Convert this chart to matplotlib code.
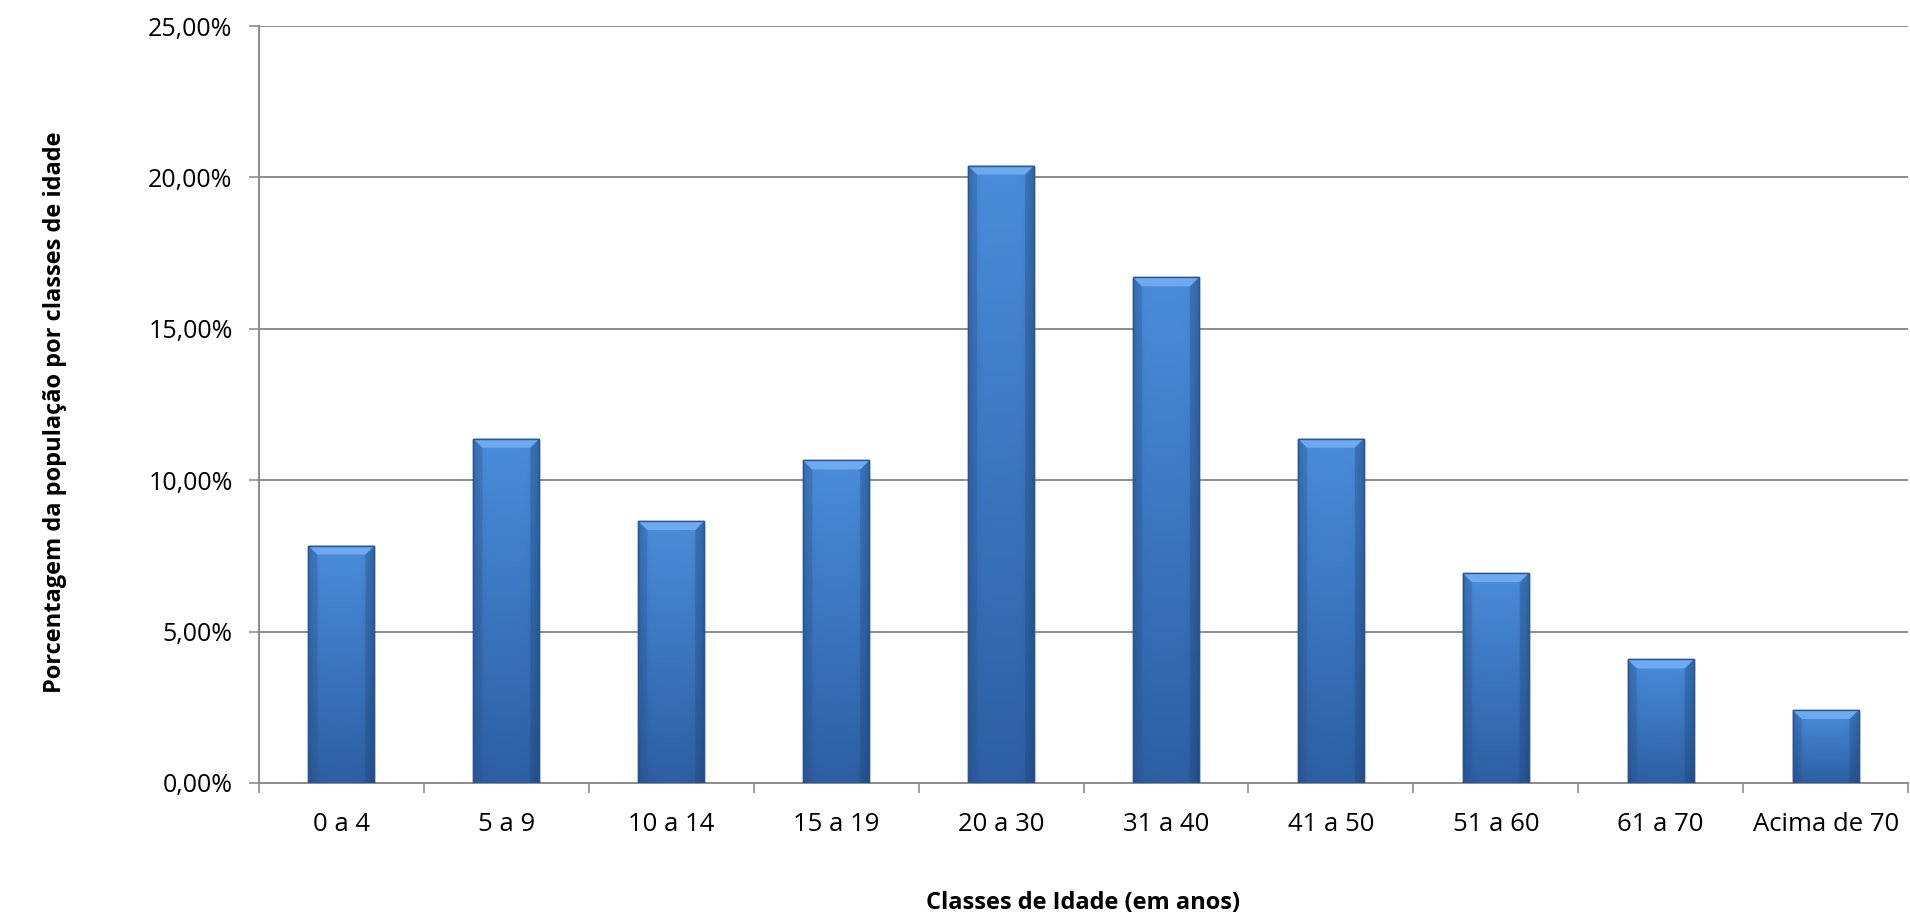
import numpy as np
import matplotlib
matplotlib.use('Agg')
import matplotlib.pyplot as plt
from matplotlib.ticker import FuncFormatter, FixedLocator
from matplotlib.colors import to_rgb
from matplotlib.patches import Polygon

plt.rcParams['font.family'] = ['Open Sans', 'DejaVu Sans']

categories = ['0 a 4', '5 a 9', '10 a 14', '15 a 19', '20 a 30',
              '31 a 40', '41 a 50', '51 a 60', '61 a 70', 'Acima de 70']
percentages = [7.84, 11.37, 8.65, 10.65, 20.39, 16.70, 11.37, 6.93, 4.08, 2.41]
y_ticks = [0, 5, 10, 15, 20, 25]

fig = plt.figure(figsize=(19.10, 9.22), dpi=100)
ax = fig.add_axes([0.1356, 0.1508, 0.8634, 0.8210])

x = np.arange(len(categories))
bars = ax.bar(x, percentages, width=0.40, color='#3c78c4',
              edgecolor='#25508a', linewidth=1.0, zorder=3)

# gradient fill for each bar (lighter top, darker bottom, shaded sides)
top_c = np.array(to_rgb('#4b8ddb'))
bot_c = np.array(to_rgb('#2d5fa3'))
ny, nx = 200, 60
tv = np.linspace(1, 0, ny)[:, None, None]
grad = bot_c + (top_c - bot_c) * tv
side = np.linspace(-1, 1, nx)
shade = 1 - 0.18 * np.abs(side) ** 6
grad = grad * shade[None, :, None]
grad = np.clip(grad, 0, 1)

px_y = 25 / 757.0   # data units per pixel (y)
px_x = 10 / 1649.0  # data units per pixel (x)
for b in bars:
    x0, w, h = b.get_x(), b.get_width(), b.get_height()
    im = ax.imshow(grad, extent=[x0, x0 + w, 0, h], aspect='auto',
                   zorder=3.5, origin='upper')
    im.set_clip_path(b)
    # bevel at top of bar
    bh = 9 * px_y
    bw = 9 * px_x
    bevel = Polygon([(x0, h), (x0 + w, h), (x0 + w - bw, h - bh), (x0 + bw, h - bh)],
                    closed=True, facecolor='#6eaaef', edgecolor='none', zorder=3.7)
    ax.add_patch(bevel)
    ax.add_patch(Polygon([(x0, h), (x0 + bw, h - bh), (x0 + bw, 0), (x0, 0)],
                         closed=True, facecolor='#2a5a9a', alpha=0.35,
                         edgecolor='none', zorder=3.6))
    ax.add_patch(Polygon([(x0 + w, h), (x0 + w - bw, h - bh), (x0 + w - bw, 0), (x0 + w, 0)],
                         closed=True, facecolor='#1f4a85', alpha=0.35,
                         edgecolor='none', zorder=3.6))
    ax.add_patch(plt.Rectangle((x0, 0), w, h, fill=False, edgecolor='#2a5590',
                               linewidth=1.0, zorder=3.9))

ax.set_xlim(-0.5, len(categories) - 0.5)
ax.set_ylim(0, 25)
ax.set_yticks(y_ticks)
ax.yaxis.set_major_formatter(FuncFormatter(lambda v, p: f'{v:.2f}%'.replace('.', ',')))
ax.yaxis.grid(True, color='#8c8c8c', linewidth=1.4, zorder=0)
ax.set_axisbelow(True)

ax.set_xticks(x)
ax.set_xticklabels(categories)
ax.xaxis.set_minor_locator(FixedLocator(np.arange(-0.5, len(categories), 1.0)))
ax.tick_params(axis='x', which='major', length=0, pad=21, labelsize=18.5)
ax.tick_params(axis='x', which='minor', length=7, width=1.2, color='#8c8c8c')
ax.tick_params(axis='y', length=7, width=1.2, color='#8c8c8c', pad=12, labelsize=18)

for s in ['top', 'right']:
    ax.spines[s].set_visible(False)
for s in ['left', 'bottom']:
    ax.spines[s].set_color('#8c8c8c')
    ax.spines[s].set_linewidth(1.4)

fig.text(0.567, 0.021, 'Classes de Idade (em anos)', ha='center', va='center',
         fontsize=17, fontweight='bold')
fig.text(0.029, 0.553, 'Porcentagem da população por classes de idade',
         ha='center', va='center', rotation=90, fontsize=17, fontweight='bold')

fig.savefig('out.png', dpi=100, facecolor='white')
